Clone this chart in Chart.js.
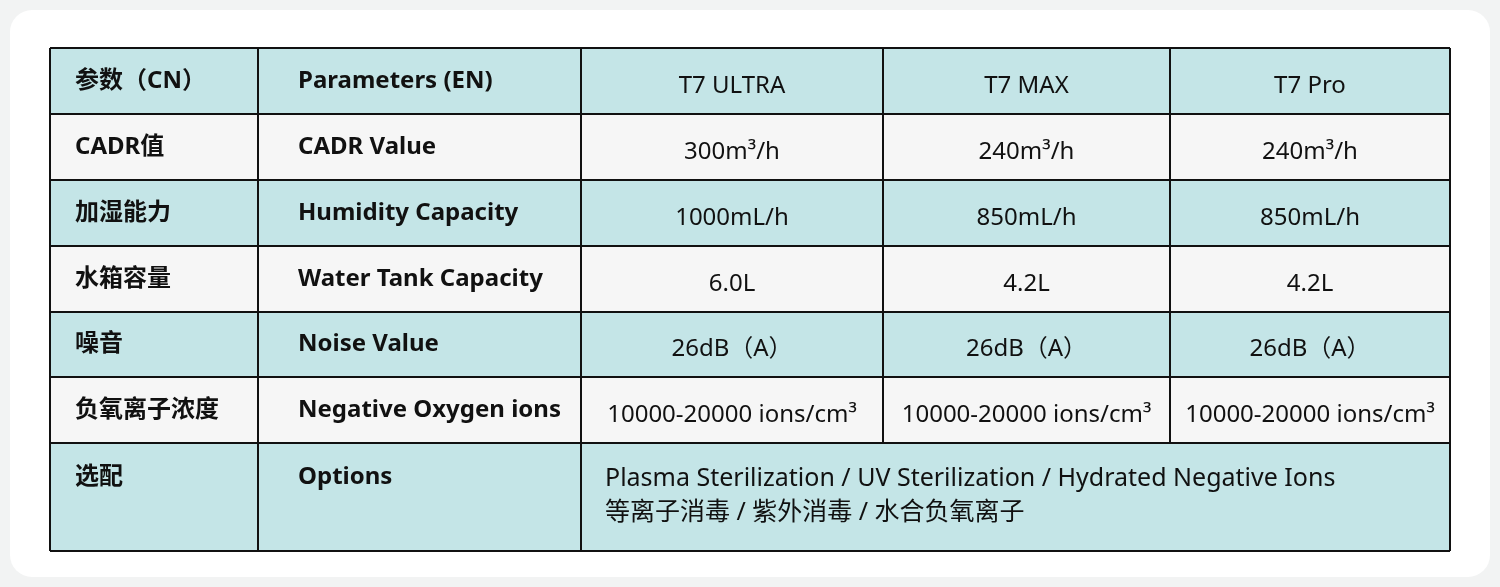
<!DOCTYPE html>
<html><head><meta charset="utf-8">
<script src="https://cdn.jsdelivr.net/npm/chart.js@4"></script>
<style>html,body{margin:0;padding:0;background:#f2f3f3}#wrap{width:1500px;height:587px}</style>
</head><body><div id="wrap"><canvas id="c"></canvas></div>
<script>
"use strict";
// table content
const headers = ["参数（CN）", "Parameters (EN)", "T7 ULTRA", "T7 MAX", "T7 Pro"];
const paramsCN = ["CADR值", "加湿能力", "水箱容量", "噪音", "负氧离子浓度", "选配"];
const paramsEN = ["CADR Value", "Humidity Capacity", "Water Tank Capacity", "Noise Value", "Negative Oxygen ions", "Options"];
const ultra = ["300m³/h", "1000mL/h", "6.0L", "26dB（A）", "10000-20000 ions/cm³"];
const max = ["240m³/h", "850mL/h", "4.2L", "26dB（A）", "10000-20000 ions/cm³"];
const pro = ["240m³/h", "850mL/h", "4.2L", "26dB（A）", "10000-20000 ions/cm³"];
const options = ["Plasma Sterilization / UV Sterilization / Hydrated Negative Ions", "等离子消毒 / 紫外消毒 / 水合负氧离子"];

// layout (in scale units = px)
const colEdges = [50, 258, 581, 883, 1170, 1450];
const rowEdges = [48, 114, 180, 246, 312, 377, 443, 551];
const FONT = '"Noto Sans", "Noto Sans CJK SC", sans-serif';

const tablePlugin = {
  id: "table",
  beforeDraw(chart) {
    const ctx = chart.ctx, xs = chart.scales.x, ys = chart.scales.y;
    const X = v => xs.getPixelForValue(v), Y = v => ys.getPixelForValue(v);
    // panel
    ctx.save();
    ctx.fillStyle = "#f2f3f3";
    ctx.fillRect(0, 0, chart.width, chart.height);
    ctx.fillStyle = "#ffffff";
    ctx.beginPath();
    ctx.roundRect(X(10), Y(10), X(1490) - X(10), Y(577) - Y(10), 22);
    ctx.fill();
    // rows
    for (let r = 0; r < rowEdges.length - 1; r++) {
      ctx.fillStyle = r % 2 === 0 ? "#c4e5e7" : "#f6f6f6";
      ctx.fillRect(X(colEdges[0]), Y(rowEdges[r]), X(colEdges[5]) - X(colEdges[0]), Y(rowEdges[r + 1]) - Y(rowEdges[r]));
    }
    // grid
    ctx.strokeStyle = "#111"; ctx.lineWidth = 2;
    ctx.beginPath();
    rowEdges.forEach(y => { ctx.moveTo(X(50), Y(y)); ctx.lineTo(X(1450), Y(y)); });
    colEdges.forEach((x, i) => {
      const bottom = (i === 3 || i === 4) ? rowEdges[6] : rowEdges[7];
      ctx.moveTo(X(x), Y(48)); ctx.lineTo(X(x), Y(bottom));
    });
    ctx.stroke();
    // text
    ctx.fillStyle = "#111"; ctx.textBaseline = "middle";
    const cellText = (t, c, r, bold, dy) => {
      const yMid = (Y(rowEdges[r]) + Y(rowEdges[r + 1])) / 2 + dy;
      ctx.font = (bold ? "bold 24px " : "24px ") + FONT;
      if (c < 2) { ctx.textAlign = "left"; ctx.fillText(t, X(colEdges[c]) + (c === 0 ? 25 : 40), yMid); }
      else { ctx.textAlign = "center"; ctx.fillText(t, (X(colEdges[c]) + X(colEdges[c + 1])) / 2, yMid); }
    };
    headers.forEach((h, c) => cellText(h, c, 0, c < 2, c < 2 ? 0 : 5));
    paramsCN.forEach((t, i) => {
      const dy = i === 5 ? -20 : 0;
      cellText(t, 0, i + 1, true, dy);
      cellText(paramsEN[i], 1, i + 1, true, dy);
    });
    [ultra, max, pro].forEach((col, k) => col.forEach((t, i) => cellText(t, k + 2, i + 1, false, 5)));
    ctx.font = "25px " + FONT; ctx.textAlign = "left";
    ctx.fillText(options[0], X(605), Y(479), 745);
    ctx.font = "25px " + FONT;
    ctx.fillText(options[1], X(605), Y(513));
    ctx.restore();
  }
};

new Chart(document.getElementById("c"), {
  type: "scatter",
  data: { datasets: [{ data: [] }] },
  options: {
    responsive: true, maintainAspectRatio: false, animation: false,
    layout: { padding: 0 },
    plugins: { legend: { display: false }, tooltip: { enabled: false } },
    scales: {
      x: { type: "linear", min: 0, max: 1500, display: false },
      y: { type: "linear", min: 0, max: 587, reverse: true, display: false }
    }
  },
  plugins: [tablePlugin]
});
</script></body></html>
